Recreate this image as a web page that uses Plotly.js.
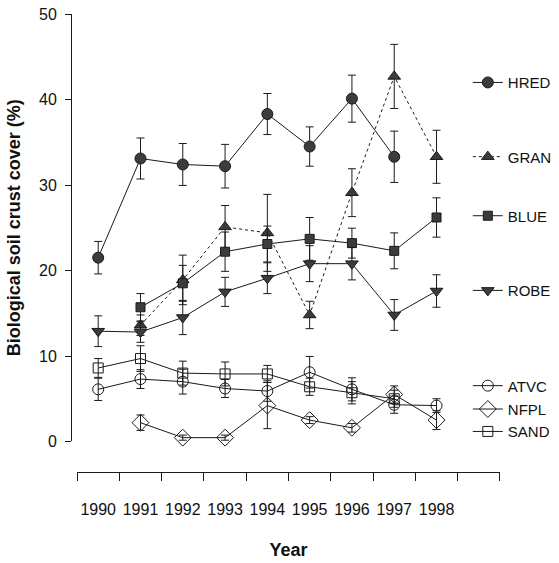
<!DOCTYPE html>
<html>
<head>
<meta charset="utf-8">
<script src="https://cdn.plot.ly/plotly-3.0.1.min.js"></script>
<style>html,body{margin:0;padding:0;background:#fff;}#chart{width:559px;height:563px;}</style>
</head>
<body>
<div id="chart"></div>
<script>
const years = [1990, 1991, 1992, 1993, 1994, 1995, 1996, 1997, 1998];
const yearLabels = ["1990", "1991", "1992", "1993", "1994", "1995", "1996", "1997", "1998"];
const seriesNames = ["HRED", "GRAN", "BLUE", "ROBE", "ATVC", "NFPL", "SAND"];

const hred = [21.5, 33.1, 32.4, 32.2, 38.3, 34.5, 40.1, 33.3, null];
const hredErr = [1.9, 2.4, 2.45, 2.55, 2.4, 2.3, 2.75, 3.0, null];
const gran = [null, 13.6, 18.9, 25.1, 24.4, 14.8, 29.1, 42.7, 33.3];
const granErr = [null, 1.2, 2.9, 2.5, 4.5, 1.6, 2.8, 3.75, 3.1];
const blue = [null, 15.7, 18.5, 22.2, 23.1, 23.7, 23.2, 22.3, 26.2];
const blueErr = [null, 1.6, 2.1, 2.3, 2.1, 2.5, 1.75, 2.1, 2.3];
const robe = [12.9, 12.8, 14.5, 17.5, 19.1, 20.8, 20.8, 14.8, 17.6];
const robeErr = [1.8, 1.2, 2.0, 1.7, 1.8, 2.1, 1.9, 1.8, 1.9];
const atvc = [6.1, 7.3, 7.0, 6.2, 5.9, 8.1, 6.1, 4.3, 4.2];
const atvcErr = [1.3, 1.1, 1.45, 1.05, 1.2, 1.85, 1.35, 1.0, 0.8];
const nfpl = [null, 2.2, 0.45, 0.45, 4.2, 2.5, 1.6, 5.5, 2.5];
const nfplErr = [null, 0.9, 0.3, 0.3, 2.7, 0.4, 0.5, 1.0, 1.1];
const sand = [8.6, 9.7, 8.0, 7.9, 7.9, 6.4, 5.7, 5.0, null];
const sandErr = [1.1, 1.5, 1.4, 1.4, 1.0, 1.0, 1.3, 1.0, null];
const xTickBounds = [1989.5, 1990.5, 1991.5, 1992.5, 1993.5, 1994.5, 1995.5, 1996.5, 1997.5, 1998.5, 1999.5];

const FONT = "Arial, 'Liberation Sans', sans-serif";
const LINE = "#1a1a1a";
const FILL = "#3c3c3c";

const values = [hred, gran, blue, robe, atvc, nfpl, sand];
const errors = [hredErr, granErr, blueErr, robeErr, atvcErr, nfplErr, sandErr];
const styles = [
  {symbol: "circle", size: 11, color: FILL, dash: "solid"},
  {symbol: "triangle-up", size: 11, color: FILL, dash: "dot"},
  {symbol: "square", size: 9, color: FILL, dash: "solid"},
  {symbol: "triangle-down", size: 11, color: FILL, dash: "solid"},
  {symbol: "circle-open", size: 11, color: LINE, dash: "solid"},
  {symbol: "diamond-open", size: 13, color: LINE, dash: "solid"},
  {symbol: "square-open", size: 10, color: LINE, dash: "solid"}
];
const legendKeys = ["legend", "legend2", "legend3", "legend4", "legend5", "legend6", "legend7"];
const legendY = [0.850, 0.688, 0.559, 0.396, 0.188, 0.137, 0.088];

const traces = seriesNames.map((name, i) => ({
  type: "scatter",
  mode: "lines+markers",
  name: name,
  x: years,
  y: values[i],
  legend: legendKeys[i],
  line: {color: LINE, width: 1, dash: styles[i].dash},
  marker: {symbol: styles[i].symbol, size: styles[i].size, color: styles[i].color,
           line: {color: LINE, width: 1}},
  error_y: {type: "data", array: errors[i], visible: true, color: LINE, thickness: 1, width: 4},
  cliponaxis: false
}));

const layout = {
  width: 559,
  height: 563,
  margin: {l: 71, r: 59, t: 14, b: 91, autoexpand: false},
  paper_bgcolor: "#fff",
  plot_bgcolor: "#fff",
  font: {family: FONT, color: "#111", size: 16},
  showlegend: true,
  xaxis: {
    domain: [0.014, 1],
    range: [1989.499, 1999.501],
    anchor: "free",
    position: 0,
    showline: true,
    linecolor: LINE,
    linewidth: 1,
    showgrid: false,
    zeroline: false,
    tickmode: "array",
    tickvals: years,
    ticktext: yearLabels,
    ticks: "",
    ticklabelstandoff: 23,
    tickfont: {size: 16, family: FONT},
    minor: {tickmode: "array", tickvals: xTickBounds, ticks: "outside", ticklen: 8, tickcolor: LINE, tickwidth: 1, showgrid: false},
    title: {text: "<b>Year</b>", font: {size: 18, family: FONT}, standoff: 26}
  },
  yaxis: {
    domain: [0.0666, 1],
    range: [0, 50],
    anchor: "free",
    position: 0,
    showline: true,
    linecolor: LINE,
    linewidth: 1,
    showgrid: false,
    zeroline: false,
    tickvals: [0, 10, 20, 30, 40, 50],
    ticks: "outside",
    ticklen: 6,
    tickcolor: LINE,
    ticklabelstandoff: 5,
    tickfont: {size: 16, family: FONT},
    title: {text: "<b>Biological soil crust cover (%)</b>", font: {size: 18, family: FONT}, standoff: 12}
  }
};

legendKeys.forEach((k, i) => {
  layout[k] = {
    x: 0.925, xanchor: "left",
    y: legendY[i], yanchor: "middle",
    bgcolor: "rgba(0,0,0,0)",
    borderwidth: 0,
    font: {size: 15, family: FONT, color: "#111"}
  };
});

Plotly.newPlot("chart", traces, layout, {displayModeBar: false, staticPlot: true});
</script>
</body>
</html>
